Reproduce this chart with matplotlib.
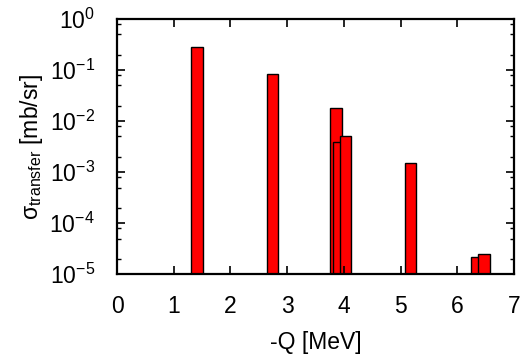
import matplotlib

matplotlib.use("Agg")

import matplotlib.pyplot as plt
from matplotlib.ticker import LogLocator, MultipleLocator

# excitation energies (-Q) and transfer cross sections
q_values = [1.41, 2.74, 3.86, 3.91, 4.03, 5.18, 6.35, 6.47]
sigma = [0.279, 0.0837, 0.0181, 0.00395, 0.00504, 0.00149, 2.15e-5, 2.5e-5]
bar_width = 0.2

plt.rcParams["font.family"] = ["Liberation Sans", "DejaVu Sans"]
plt.rcParams["mathtext.fontset"] = "custom"
plt.rcParams["mathtext.rm"] = "Liberation Sans"
plt.rcParams["mathtext.it"] = "Liberation Sans:italic"
plt.rcParams["mathtext.bf"] = "Liberation Sans:bold"

fig = plt.figure(figsize=(5.32, 3.56), dpi=100)
ax = fig.add_axes([0.220, 0.2295, 0.746, 0.7175])

ax.bar(q_values, sigma, width=bar_width, color="#ff0000",
       edgecolor="black", linewidth=1.0, align="center")

ax.set_yscale("log")
ax.set_xlim(0, 7)
ax.set_ylim(1e-5, 1)
ax.xaxis.set_major_locator(MultipleLocator(1))
ax.yaxis.set_major_locator(LogLocator(base=10, numticks=10))
ax.yaxis.set_minor_locator(LogLocator(base=10, subs=(2, 5, 8), numticks=10))

ax.tick_params(which="both", direction="in", top=True, right=True, labelsize=16.5)
ax.tick_params(axis="x", pad=15)
ax.tick_params(axis="y", pad=16)
ax.tick_params(which="major", length=6, width=1.2)
ax.tick_params(which="minor", length=3, width=1.0)
ax.tick_params(axis="x", which="minor", length=0)
for spine in ax.spines.values():
    spine.set_linewidth(1.6)

ax.set_xlabel("-Q [MeV]", fontsize=16.5, labelpad=9)
ax.set_ylabel(r"σ$_{\rm transfer}$ [mb/sr]", fontsize=16.5, labelpad=3)

fig.savefig("out.png", dpi=100)
